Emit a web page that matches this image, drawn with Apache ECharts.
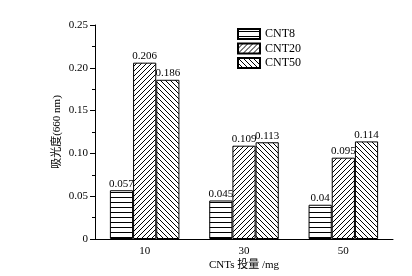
<!DOCTYPE html>
<html>
<head>
<meta charset="utf-8">
<script src="https://cdn.jsdelivr.net/npm/echarts@6/dist/echarts.min.js"></script>
<style>
html, body { margin: 0; padding: 0; background: #fff; }
#chart { width: 412px; height: 276px; }
</style>
</head>
<body>
<div id="chart"></div>
<script>
/* data */
var CATEGORIES = ['10', '30', '50'];
var SERIES_NAMES = ['CNT8', 'CNT20', 'CNT50'];
var CNT8 = [0.057, 0.045, 0.04];
var CNT20 = [0.206, 0.109, 0.095];
var CNT50 = [0.186, 0.113, 0.114];

var FONT = '"Liberation Serif", "Times New Roman", serif';

/* hatch patterns drawn on small canvases */
function makePattern(kind) {
    var s = 5;
    var c = document.createElement('canvas');
    c.width = s; c.height = s;
    var ctx = c.getContext('2d');
    ctx.fillStyle = '#fff';
    ctx.fillRect(0, 0, s, s);
    ctx.strokeStyle = '#000';
    ctx.lineWidth = 1;
    ctx.beginPath();
    if (kind === 'h') {
        ctx.moveTo(0, 2.5); ctx.lineTo(s, 2.5);
    } else if (kind === 'f') {
        ctx.moveTo(-1, s + 1); ctx.lineTo(s + 1, -1);
        ctx.moveTo(-1, 1); ctx.lineTo(1, -1);
        ctx.moveTo(s - 1, s + 1); ctx.lineTo(s + 1, s - 1);
    } else {
        ctx.moveTo(-1, -1); ctx.lineTo(s + 1, s + 1);
        ctx.moveTo(s - 1, -1); ctx.lineTo(s + 1, 1);
        ctx.moveTo(-1, s - 1); ctx.lineTo(1, s + 1);
    }
    ctx.stroke();
    return { image: c, repeat: 'repeat' };
}

var PATTERNS = [makePattern('h'), makePattern('f'), makePattern('b')];
var DATA = [CNT8, CNT20, CNT50];

var series = [];
for (var i = 0; i < SERIES_NAMES.length; i++) {
    series.push({
        name: SERIES_NAMES[i],
        type: 'bar',
        data: DATA[i],
        barGap: '0%',
        barCategoryGap: '30%',
        itemStyle: {
            color: PATTERNS[i],
            borderColor: '#000',
            borderWidth: 1
        },
        label: {
            show: true,
            position: 'top',
            distance: 1,
            color: '#000',
            fontFamily: FONT,
            fontSize: 11
        }
    });
}

var option = {
    backgroundColor: '#fff',
    animation: false,
    grid: { left: 95, right: 19, top: 25, bottom: 37 },
    legend: {
        orient: 'vertical',
        left: 232,
        top: 23,
        icon: 'rect',
        itemWidth: 22,
        itemHeight: 10,
        itemGap: 2.5,
        data: SERIES_NAMES,
        textStyle: { fontFamily: FONT, fontSize: 12, color: '#000' }
    },
    xAxis: {
        type: 'category',
        data: CATEGORIES,
        name: 'CNTs 投量 /mg',
        nameLocation: 'middle',
        nameGap: 21,
        nameMoveOverlap: false,
        nameTextStyle: { fontFamily: FONT + ', "Noto Sans CJK SC"', fontSize: 11, color: '#000' },
        axisLine: { lineStyle: { color: '#000', width: 1 } },
        axisTick: { inside: true, length: 4, lineStyle: { color: '#000' } },
        axisLabel: { fontFamily: FONT, fontSize: 11, color: '#000', margin: 7 }
    },
    yAxis: {
        type: 'value',
        min: 0,
        max: 0.25,
        interval: 0.05,
        name: '吸光度(660 nm)',
        nameLocation: 'middle',
        nameGap: 32,
        nameMoveOverlap: false,
        nameTextStyle: { fontFamily: FONT + ', "Noto Sans CJK SC"', fontSize: 11, color: '#000' },
        axisLine: { show: true, lineStyle: { color: '#000', width: 1 } },
        axisTick: { show: true, length: 5, lineStyle: { color: '#000' } },
        minorTick: { show: true, splitNumber: 2, length: 3, lineStyle: { color: '#000' } },
        splitLine: { show: false },
        axisLabel: {
            fontFamily: FONT, fontSize: 11, color: '#000', margin: 7,
            formatter: function (v) { return v === 0 ? '0' : v.toFixed(2); }
        }
    },
    series: series
};

var chart = echarts.init(document.getElementById('chart'));
chart.setOption(option);
</script>
</body>
</html>
